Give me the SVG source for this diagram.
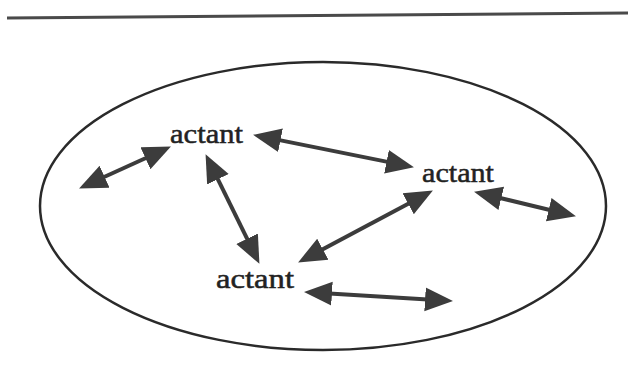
<svg xmlns="http://www.w3.org/2000/svg" width="628" height="390" viewBox="0 0 628 390">
<style>
.lbl{font-family:"Liberation Serif","Times New Roman",serif;font-size:28px;fill:#222;stroke:#222;stroke-width:0.5}
.arr{stroke:#3c3c3c;stroke-width:4;fill:none;marker-start:url(#ah);marker-end:url(#ah)}
</style>
<defs>
<marker id="ah" markerUnits="userSpaceOnUse" markerWidth="30" markerHeight="28" viewBox="0 0 30 28" refX="15" refY="14" orient="auto-start-reverse">
<path d="M0,2 L28,14 L0,26 Z" fill="#3c3c3c"/>
</marker>
</defs>
<rect width="628" height="390" fill="#fff"/>
<line x1="7" y1="18" x2="628" y2="13" stroke="#4a4a4a" stroke-width="3"/>
<ellipse cx="323" cy="206" rx="283" ry="144" fill="none" stroke="#2a2a2a" stroke-width="2.5"/>
<g id="connectors">
<line class="arr" x1="90.9" y1="183" x2="159.1" y2="152"/>
<line class="arr" x1="211.3" y1="165.8" x2="253.7" y2="252.2"/>
<line class="arr" x1="265.8" y1="137.4" x2="401.2" y2="164.6"/>
<line class="arr" x1="421.4" y1="196.7" x2="309.6" y2="256.3"/>
<line class="arr" x1="486.7" y1="194.8" x2="563.3" y2="213.2"/>
<line class="arr" x1="317" y1="292.7" x2="440" y2="300.3"/>
</g>
<g id="actant1"><text class="lbl" x="170" y="143" textLength="73" lengthAdjust="spacingAndGlyphs">actant</text></g>
<g id="actant2"><text class="lbl" x="422" y="182" textLength="72" lengthAdjust="spacingAndGlyphs">actant</text></g>
<g id="actant3"><text class="lbl" x="216" y="288" textLength="78" lengthAdjust="spacingAndGlyphs">actant</text></g>
</svg>
